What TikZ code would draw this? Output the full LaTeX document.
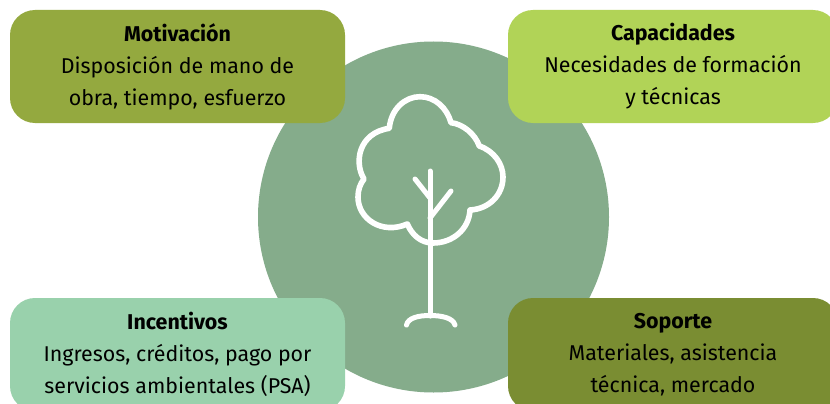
\documentclass[tikz,border=0pt]{standalone}
\usepackage{fontspec}
\setmainfont{Fira Sans}
\definecolor{cmot}{HTML}{94A93F}
\definecolor{ccap}{HTML}{B1D357}
\definecolor{cinc}{HTML}{99D1AC}
\definecolor{csop}{HTML}{7A8D32}
\definecolor{ccir}{HTML}{85AC8B}
\tikzset{
  box/.style={rounded corners=25pt,minimum width=335pt,minimum height=113pt,inner sep=0pt,align=center,
    font=\fontsize{21.4pt}{32pt}\selectfont,text=black},
  tree/.style={draw=white,line width=5.6pt,line cap=round,line join=round}
}
\begin{document}
\begin{tikzpicture}[x=1pt,y=-1pt]
\useasboundingbox (0,0) rectangle (830,404);
\clip (0,0) rectangle (830,404);
\fill[white] (0,0) rectangle (830,404);
\node[circle,fill=ccir,minimum size=351pt,inner sep=0pt] (disc) at (433.5,217) {};
\node[box,fill=cmot] (mot) at (177.5,66.5) {\textbf{Motivación}\\Disposición de mano de\\obra, tiempo, esfuerzo};
\node[box,fill=ccap,minimum width=330pt] (cap) at (673,66.5) {\textbf{Capacidades}\\Necesidades de formación\\y técnicas};
\node[box,fill=cinc] (inc) at (177.5,354.5) {\textbf{Incentivos}\\Ingresos, créditos, pago por\\servicios ambientales (PSA)};
\node[box,fill=csop,minimum width=330pt] (sop) at (673,354.5) {\textbf{Soporte}\\Materiales, asistencia\\técnica, mercado};
% tree
\draw[tree] (389.3,128.3)
  .. controls (391,109) and (405,96.7) .. (420,96.7)
  .. controls (435,96.7) and (447,108) .. (451,122.7)
  .. controls (463,124) and (475,134) .. (479.3,146)
  .. controls (494,151) and (503,164) .. (503,177)
  .. controls (503,195) and (489,209) .. (470,210)
  .. controls (469,229) and (453,243) .. (433,243)
  .. controls (421,243) and (412,235) .. (407.3,224)
  .. controls (382,235) and (358,219) .. (358,197)
  .. controls (358,190) and (360,184) .. (364,179)
  .. controls (354,163) and (358,133) .. (389.3,128.3) -- cycle;
\draw[tree,line width=5pt] (430,171) -- (430,316);
\draw[tree,line width=5pt] (415,179) -- (430,198);
\draw[tree,line width=5pt] (451,191) -- (430,218);
\draw[tree,line width=5pt] (406.5,325) .. controls (408,318) and (418,315.5) .. (430,315.5) .. controls (442,315.5) and (453,318) .. (455,325);
\end{tikzpicture}
\end{document}
